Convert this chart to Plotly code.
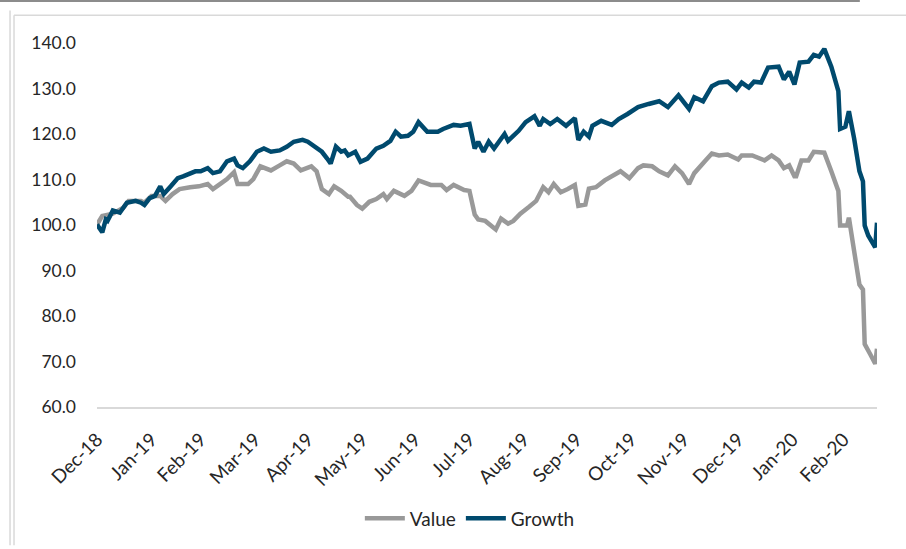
import plotly.graph_objects as go

# Index levels (start = 100)
value_dates = [
    "2018-12-31", "2019-01-03", "2019-01-09", "2019-01-15", "2019-01-18", "2019-01-25",
    "2019-01-27", "2019-01-31", "2019-02-05", "2019-02-08", "2019-02-12", "2019-02-16",
    "2019-02-22", "2019-02-27", "2019-03-04", "2019-03-07", "2019-03-11", "2019-03-15",
    "2019-03-19", "2019-03-21", "2019-03-27", "2019-03-30", "2019-04-03", "2019-04-09",
    "2019-04-14", "2019-04-18", "2019-04-22", "2019-04-26", "2019-05-02", "2019-05-05",
    "2019-05-08", "2019-05-12", "2019-05-15", "2019-05-19", "2019-05-23", "2019-05-24",
    "2019-05-28", "2019-05-31", "2019-06-04", "2019-06-08", "2019-06-12", "2019-06-14",
    "2019-06-18", "2019-06-24", "2019-06-28", "2019-07-02", "2019-07-09", "2019-07-15",
    "2019-07-18", "2019-07-22", "2019-07-28", "2019-07-31", "2019-08-03", "2019-08-05",
    "2019-08-09", "2019-08-12", "2019-08-15", "2019-08-18", "2019-08-22", "2019-08-25",
    "2019-08-29", "2019-09-03", "2019-09-07", "2019-09-11", "2019-09-14", "2019-09-17",
    "2019-09-21", "2019-09-25", "2019-09-29", "2019-10-01", "2019-10-05", "2019-10-07",
    "2019-10-11", "2019-10-16", "2019-10-21", "2019-10-25", "2019-10-30", "2019-11-04",
    "2019-11-07", "2019-11-12", "2019-11-16", "2019-11-21", "2019-11-25", "2019-11-29",
    "2019-12-03", "2019-12-06", "2019-12-12", "2019-12-16", "2019-12-20", "2019-12-25",
    "2019-12-31", "2020-01-02", "2020-01-08", "2020-01-15", "2020-01-19", "2020-01-23",
    "2020-01-26", "2020-01-29", "2020-02-01", "2020-02-02", "2020-02-05", "2020-02-09",
    "2020-02-12", "2020-02-18", "2020-02-22", "2020-02-26", "2020-02-27", "2020-03-02",
    "2020-03-03", "2020-03-06", "2020-03-09", "2020-03-11", "2020-03-12", "2020-03-15",
    "2020-03-18", "2020-03-19",
]
value_index = [
    100.1, 102.0, 102.5, 103.8, 105.3, 105.3,
    104.9, 106.4, 106.4, 105.3, 106.8, 107.9,
    108.3, 108.5, 109.0, 107.9, 109.0, 110.1,
    111.6, 109.0, 109.0, 110.1, 112.9, 112.0,
    113.1, 114.0, 113.5, 112.0, 112.9, 111.8,
    107.9, 106.8, 108.5, 107.5, 106.2, 106.2,
    104.4, 103.6, 105.1, 105.7, 106.8, 105.7,
    107.5, 106.4, 107.5, 109.8, 108.8, 108.8,
    107.7, 108.8, 107.7, 107.5, 102.3, 101.2,
    100.9, 100.1, 99.0, 101.4, 100.3, 100.9,
    102.5, 104.0, 105.3, 108.3, 107.2, 109.0,
    107.2, 107.9, 108.8, 104.2, 104.5, 108.0,
    108.3, 109.8, 110.9, 111.8, 110.3, 112.5,
    113.1, 112.9, 111.8, 110.9, 112.9, 111.4,
    109.0, 111.4, 114.0, 115.7, 115.3, 115.5,
    114.4, 115.3, 115.3, 114.2, 115.3, 114.2,
    112.5, 113.1, 110.7, 110.7, 114.2, 114.2,
    116.1, 115.9, 111.8, 107.5, 99.9, 99.9,
    101.6, 93.6, 86.9, 85.8, 73.8, 71.7,
    69.5, 72.8,
]

growth_dates = [
    "2018-12-31", "2019-01-03", "2019-01-05", "2019-01-06", "2019-01-09", "2019-01-13",
    "2019-01-17", "2019-01-22", "2019-01-25", "2019-01-27", "2019-01-30", "2019-02-02",
    "2019-02-05", "2019-02-07", "2019-02-11", "2019-02-15", "2019-02-18", "2019-02-22",
    "2019-02-25", "2019-02-28", "2019-03-04", "2019-03-07", "2019-03-11", "2019-03-15",
    "2019-03-19", "2019-03-21", "2019-03-24", "2019-03-28", "2019-04-01", "2019-04-05",
    "2019-04-09", "2019-04-14", "2019-04-18", "2019-04-22", "2019-04-27", "2019-04-30",
    "2019-05-04", "2019-05-08", "2019-05-11", "2019-05-13", "2019-05-16", "2019-05-19",
    "2019-05-21", "2019-05-23", "2019-05-27", "2019-05-30", "2019-06-03", "2019-06-08",
    "2019-06-12", "2019-06-16", "2019-06-19", "2019-06-22", "2019-06-26", "2019-06-29",
    "2019-07-02", "2019-07-07", "2019-07-13", "2019-07-16", "2019-07-22", "2019-07-26",
    "2019-07-31", "2019-08-03", "2019-08-05", "2019-08-08", "2019-08-11", "2019-08-14",
    "2019-08-20", "2019-08-22", "2019-08-28", "2019-09-01", "2019-09-06", "2019-09-09",
    "2019-09-11", "2019-09-15", "2019-09-19", "2019-09-24", "2019-09-29", "2019-10-01",
    "2019-10-04", "2019-10-07", "2019-10-09", "2019-10-14", "2019-10-20", "2019-10-24",
    "2019-10-29", "2019-11-04", "2019-11-10", "2019-11-16", "2019-11-21", "2019-11-27",
    "2019-12-03", "2019-12-06", "2019-12-11", "2019-12-16", "2019-12-20", "2019-12-25",
    "2019-12-30", "2020-01-02", "2020-01-06", "2020-01-09", "2020-01-13", "2020-01-17",
    "2020-01-23", "2020-01-26", "2020-01-29", "2020-02-01", "2020-02-04", "2020-02-09",
    "2020-02-12", "2020-02-15", "2020-02-18", "2020-02-22", "2020-02-26", "2020-02-27",
    "2020-03-01", "2020-03-03", "2020-03-06", "2020-03-09", "2020-03-11", "2020-03-12",
    "2020-03-14", "2020-03-18", "2020-03-19",
]
growth_index = [
    100.1, 98.4, 101.2, 100.9, 103.2, 102.7,
    104.9, 105.3, 104.9, 104.4, 105.9, 106.4,
    108.5, 106.8, 108.5, 110.3, 110.7, 111.4,
    111.8, 111.8, 112.5, 111.4, 111.8, 114.0,
    114.6, 113.1, 112.5, 114.0, 116.1, 116.8,
    116.1, 116.4, 117.2, 118.3, 118.7, 118.3,
    117.2, 116.1, 114.6, 113.5, 117.2, 116.1,
    116.4, 115.3, 116.1, 113.9, 114.6, 116.8,
    117.4, 118.5, 120.5, 119.4, 119.6, 120.5,
    122.6, 120.5, 120.5, 121.1, 122.0, 121.8,
    122.2, 116.8, 118.3, 116.1, 118.3, 116.8,
    120.0, 118.5, 120.7, 122.6, 123.9, 121.8,
    123.3, 122.2, 123.3, 121.8, 123.5, 118.7,
    120.5, 119.4, 121.8, 122.9, 122.0, 123.3,
    124.4, 125.9, 126.6, 127.2, 125.9, 128.5,
    125.5, 128.1, 127.2, 130.5, 131.3, 131.5,
    129.8, 131.3, 130.2, 131.5, 131.3, 134.6,
    134.8, 132.0, 133.7, 130.9, 135.7, 135.9,
    137.4, 137.0, 138.7, 134.8, 129.4, 121.1,
    121.6, 125.0, 119.0, 111.8, 109.6, 99.9,
    97.7, 95.1, 100.5,
]

# month-end ticks
tick_vals = [
    "2018-12-31", "2019-01-31", "2019-02-28", "2019-03-31", "2019-04-30",
    "2019-05-31", "2019-06-30", "2019-07-31", "2019-08-31", "2019-09-30",
    "2019-10-31", "2019-11-30", "2019-12-31", "2020-01-31", "2020-02-29",
]
tick_text = [
    "Dec-18", "Jan-19", "Feb-19", "Mar-19", "Apr-19", "May-19", "Jun-19", "Jul-19",
    "Aug-19", "Sep-19", "Oct-19", "Nov-19", "Dec-19", "Jan-20", "Feb-20",
]

fig = go.Figure()
fig.add_trace(go.Scatter(x=value_dates, y=value_index, name="Value", mode="lines",
                         line=dict(color="#999999", width=4.5)))
fig.add_trace(go.Scatter(x=growth_dates, y=growth_index, name="Growth", mode="lines",
                         line=dict(color="#004A6E", width=4.5)))

fig.update_xaxes(type="date", range=["2018-12-31", "2020-03-19"],
                 tickvals=tick_vals, ticktext=tick_text, tickangle=-45,
                 showgrid=False, zeroline=False, ticks="", automargin=False,
                 showline=True, linecolor="#D9D9D9", linewidth=2,
                 ticklabelstandoff=12, tickfont=dict(size=19))
fig.update_yaxes(range=[60, 140], dtick=10, tickformat=".1f", automargin=False,
                 showgrid=False, zeroline=False, showline=False,
                 ticklabelstandoff=20, tickfont=dict(size=17.5))

# frame lines around the chart (screenshot of a boxed chart)
frame = [
    dict(x0=-0.1244, x1=0.978, y0=1.1152, y1=1.1152, color="#8C8C8C", w=2),
    dict(x0=-0.1064, x1=1.04, y0=1.0759, y1=1.0759, color="#D9D9D9", w=1.5),
    dict(x0=-0.1115, x1=-0.1115, y0=1.089, y1=-0.38, color="#D9D9D9", w=1.5),
    dict(x0=-0.1064, x1=-0.1064, y0=1.0759, y1=-0.38, color="#D9D9D9", w=1.5),
]
for f in frame:
    fig.add_shape(type="line", xref="paper", yref="paper",
                  x0=f["x0"], x1=f["x1"], y0=f["y0"], y1=f["y1"],
                  line=dict(color=f["color"], width=f["w"]))

fig.update_layout(
    width=906, height=549,
    margin=dict(l=97, r=29, t=43, b=137),
    paper_bgcolor="white", plot_bgcolor="white",
    font=dict(family="Lato", size=17, color="#262626"),
    showlegend=True,
    legend=dict(orientation="h", x=0.478, xanchor="center", y=-0.306, yanchor="middle",
                font=dict(size=19), itemwidth=40),
)

fig.write_html("out.html", config={"displayModeBar": False},
               post_script="document.body.style.margin='0';"
                           "document.body.style.overflow='hidden';")
